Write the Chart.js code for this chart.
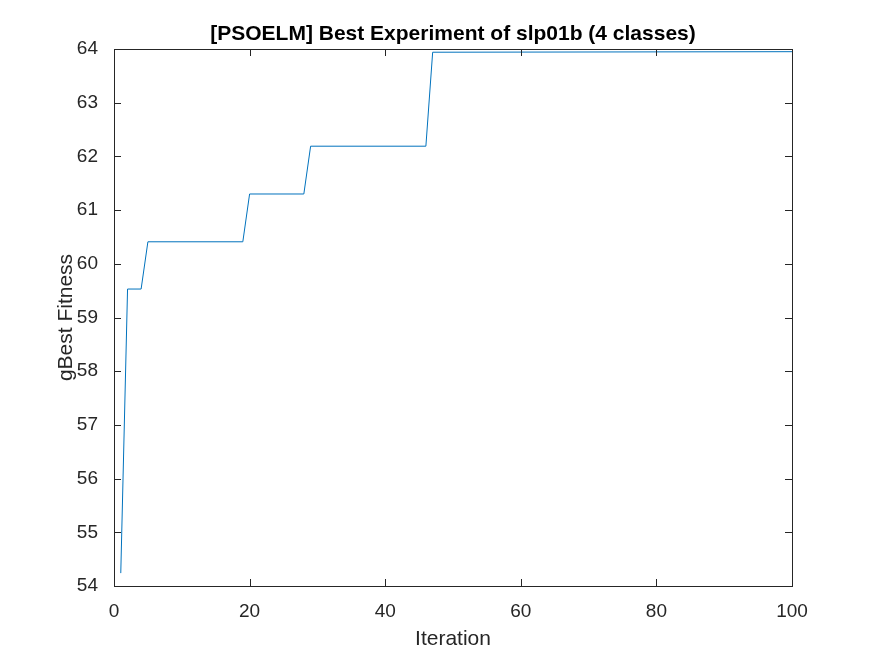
<!DOCTYPE html>
<html>
<head>
<meta charset="utf-8">
<script src="https://cdn.jsdelivr.net/npm/chart.js@4"></script>
<style>
  html, body { margin: 0; padding: 0; background: #fff; }
  #wrap { width: 875px; height: 656px; }
</style>
</head>
<body>
<div id="wrap"><canvas id="chart" width="875" height="656"></canvas></div>
<script>
// Vertices of the gBest curve
const iterations = [1, 2, 4, 5, 19, 20, 28, 29, 46, 47, 100]
const fitness = [54.24, 59.53, 59.53, 60.41, 60.41, 61.3, 61.3, 62.19, 62.19, 63.94, 63.95]
const xTicks = [0, 20, 40, 60, 80, 100]
const yTicks = [54, 55, 56, 57, 58, 59, 60, 61, 62, 63, 64]

const titleText = "[PSOELM] Best Experiment of slp01b (4 classes)"
const yTitle = "gBest Fitness"
const font = "'Liberation Sans', Arial, sans-serif"

// MATLAB style box, inward ticks, title and y label
const matlabAxes = {
  id: "matlabAxes",
  afterDraw(chart) {
    const { ctx, chartArea: a, scales } = chart
    ctx.save()
    ctx.strokeStyle = "#262626"
    ctx.lineWidth = 1
    ctx.strokeRect(a.left + 0.5, a.top + 0.5, a.right - a.left, a.bottom - a.top)
    ctx.beginPath()
    xTicks.forEach(v => {
      const px = Math.round(scales.x.getPixelForValue(v)) + 0.5
      ctx.moveTo(px, a.bottom); ctx.lineTo(px, a.bottom - 7)
      ctx.moveTo(px, a.top); ctx.lineTo(px, a.top + 7)
    })
    yTicks.forEach(v => {
      const py = Math.round(scales.y.getPixelForValue(v)) + 0.5
      ctx.moveTo(a.left, py); ctx.lineTo(a.left + 7, py)
      ctx.moveTo(a.right, py); ctx.lineTo(a.right - 7, py)
    })
    ctx.stroke()
    ctx.fillStyle = "#000"
    ctx.font = "bold 21px " + font
    ctx.textAlign = "center"
    ctx.textBaseline = "alphabetic"
    ctx.fillText(titleText, (a.left + a.right) / 2, 40)
    ctx.fillStyle = "#262626"
    ctx.font = "21px " + font
    ctx.translate(72, (a.top + a.bottom) / 2)
    ctx.rotate(-Math.PI / 2)
    ctx.fillText(yTitle, 0, 0)
    ctx.restore()
  }
}

new Chart(document.getElementById("chart"), {
  type: "line",
  data: {
    datasets: [{
      data: iterations.map((x, i) => ({ x, y: fitness[i] })),
      borderColor: "#0072BD",
      borderWidth: 1,
      pointRadius: 0,
      tension: 0,
      fill: false
    }]
  },
  options: {
    responsive: false,
    animation: false,
    layout: { padding: { left: 0, right: 83, top: 49, bottom: 0 } },
    plugins: { legend: { display: false }, tooltip: { enabled: false } },
    scales: {
      x: {
        type: "linear", min: 0, max: 100,
        afterBuildTicks: s => { s.ticks = xTicks.map(v => ({ value: v })) },
        afterFit: s => { s.height = 70 },
        grid: { display: false }, border: { display: false },
        ticks: { color: "#262626", padding: 6, font: { family: font, size: 19 } },
        title: { display: true, text: "Iteration", color: "#262626", padding: { top: 0 }, font: { family: font, size: 21 } }
      },
      y: {
        min: 54, max: 64,
        afterBuildTicks: s => { s.ticks = yTicks.map(v => ({ value: v })) },
        afterFit: s => { s.width = 114 },
        grid: { display: false }, border: { display: false },
        ticks: { color: "#262626", padding: 8, font: { family: font, size: 19 } }
      }
    }
  },
  plugins: [matlabAxes]
})
</script>
</body>
</html>
